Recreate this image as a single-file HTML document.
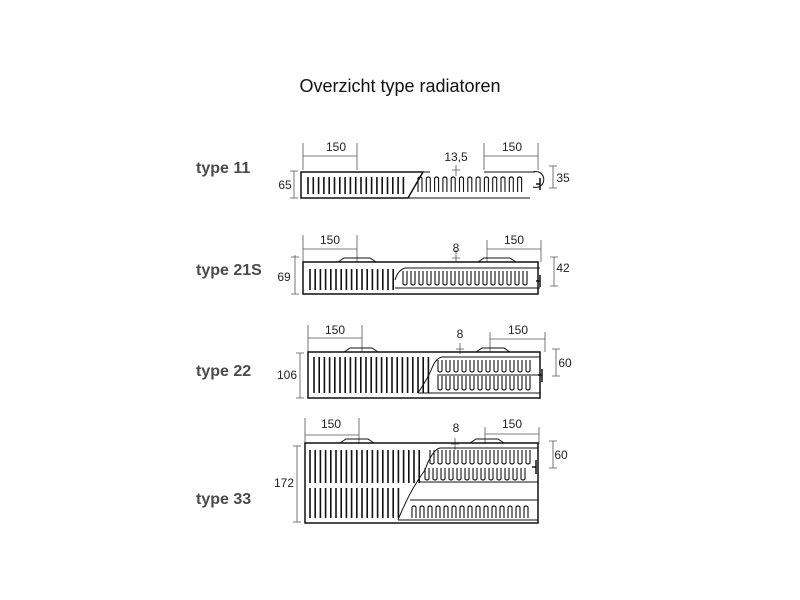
<!DOCTYPE html>
<html><head><meta charset="utf-8"><style>
body{margin:0;background:#fff;width:800px;height:600px;overflow:hidden}
svg{display:block}
.t{font-family:"Liberation Sans",sans-serif;font-size:12px;fill:#222}
.lb{font-family:"Liberation Sans",sans-serif;font-size:16px;font-weight:bold;fill:#4a4a4a}
</style></head><body>
<svg width="800" height="600" viewBox="0 0 800 600" xmlns="http://www.w3.org/2000/svg">
<text x="400" y="92" text-anchor="middle" font-family="Liberation Sans,sans-serif" font-size="18" fill="#111">Overzicht type radiatoren</text>
<text class="lb" x="196" y="173">type 11</text>
<text class="lb" x="196" y="275">type 21S</text>
<text class="lb" x="196" y="376">type 22</text>
<text class="lb" x="196" y="504">type 33</text>

<g stroke="#555" stroke-width="0.8" fill="none">
<path d="M303 143V170M357 143V170M303 156H357M484 143V170M538 143V170M484 156H538M294 171V198M290 171H298M290 198H298M553 166V188M549 166H557M549 188H557M456 165V176M452 170H460"/>
<path d="M303 235V262M357 235V262M303 249H357M487 240V262M541 240V262M487 249H541M295 255V294M291 257H299M291 294H299M554 257V286M550 257H558M550 286H558M456 250V262M452 258H460"/>
<path d="M308 325V352M362 325V352M308 338H362M490 332V352M545 332V352M490 339H545M300 353V398M296 353H304M296 398H304M556 349V376M552 349H560M552 376H560M460 343V354M456 349H464"/>
<path d="M305 418V444M359 418V444M305 435H359M485 427V444M539 427V444M485 434H539M297 446V522M293 446H301M293 522H301M553 441V468M549 441H557M549 468H557M455 438V450M451 444H459"/>
</g>
<g class="t">
<text x="336" y="151" text-anchor="middle">150</text>
<text x="512" y="151" text-anchor="middle">150</text>
<text x="456" y="161" text-anchor="middle">13,5</text>
<text x="285" y="189" text-anchor="middle">65</text>
<text x="563" y="182" text-anchor="middle">35</text>
<text x="330" y="244" text-anchor="middle">150</text>
<text x="514" y="244" text-anchor="middle">150</text>
<text x="456" y="252" text-anchor="middle">8</text>
<text x="284" y="281" text-anchor="middle">69</text>
<text x="563" y="272" text-anchor="middle">42</text>
<text x="335" y="334" text-anchor="middle">150</text>
<text x="518" y="334" text-anchor="middle">150</text>
<text x="460" y="338" text-anchor="middle">8</text>
<text x="287" y="379" text-anchor="middle">106</text>
<text x="565" y="367" text-anchor="middle">60</text>
<text x="331" y="428" text-anchor="middle">150</text>
<text x="512" y="428" text-anchor="middle">150</text>
<text x="456" y="432" text-anchor="middle">8</text>
<text x="284" y="487" text-anchor="middle">172</text>
<text x="561" y="459" text-anchor="middle">60</text>
</g>
<g id="draw" stroke="#111" fill="none" stroke-width="1.2"></g>
</svg>
<script>
var g=document.getElementById('draw'),s='';
function L(d,w){s+='<path d="'+d+'"'+(w?' stroke-width="'+w+'"':'')+'/>';}
function slats(x0,x1,y0,y1,step){var d='';for(var x=x0;x<=x1;x+=step)d+='M'+x+' '+y0+'V'+y1;L(d,1.6);}
function loops(x0,x1,yt,yb,step,up){var d='';for(var x=x0;x<=x1;x+=step){ if(up){d+='M'+x+' '+yb+'V'+(yt+2)+'Q'+(x+2)+' '+yt+' '+(x+4)+' '+(yt+2)+'V'+yb;}else{d+='M'+x+' '+yt+'V'+(yb-2)+'Q'+(x+2)+' '+yb+' '+(x+4)+' '+(yb-2)+'V'+yt;}}L(d,1.1);}
L('M301 172H423L408 198H301Z',1.5);
slats(308,404,177,194,5.3);
L('M408 198H530M423 172L430 172',1);
loops(418,520,176,192,8.3,true);
L('M484 172H535M533 172a8 8 0 1 1 0 15',1);
L('M540 178V190M536 184H540',1.5);
L('M303 262H538V294H303Z',1.5);
L('M338 262L344 258H370L376 262M478 262L484 258H510L516 262',1);
slats(310,394,269,290,5.2);
L('M395 280Q398 270 405 268H540M395 288H540',1);
loops(403,530,271,286,8,false);
L('M540 275V287M536 281H540',1.5);
L('M308 352H540V398H308Z',1.5);
L('M344 352L350 348H372L378 352M476 352L482 348H504L510 352',1);
slats(314,432,357,393,5.2);
L('M418 393Q428 378 432 368Q436 358 442 357H540M418 393H540M437 375H540',1);
loops(438,530,360,373,8,false);
loops(438,530,376,391,8,false);
L('M542 369V382M538 375H542',1.5);
L('M305 443H538V523H305Z',1.5);
L('M340 443L346 439H368L374 443M470 443L476 439H498L504 443',1);
slats(310,420,450,483,5.2);
slats(310,400,488,518,5.2);
L('M398 520Q410 490 425 470Q432 450 440 448H538M398 520H538M420 482H538M410 500H538',1);
loops(430,528,450,465,8,false);
loops(425,528,468,481,8,false);
loops(412,528,505,518,8,true);
L('M536 460V474M532 467H536',1.5);
g.innerHTML=s;
</script>
</body></html>
